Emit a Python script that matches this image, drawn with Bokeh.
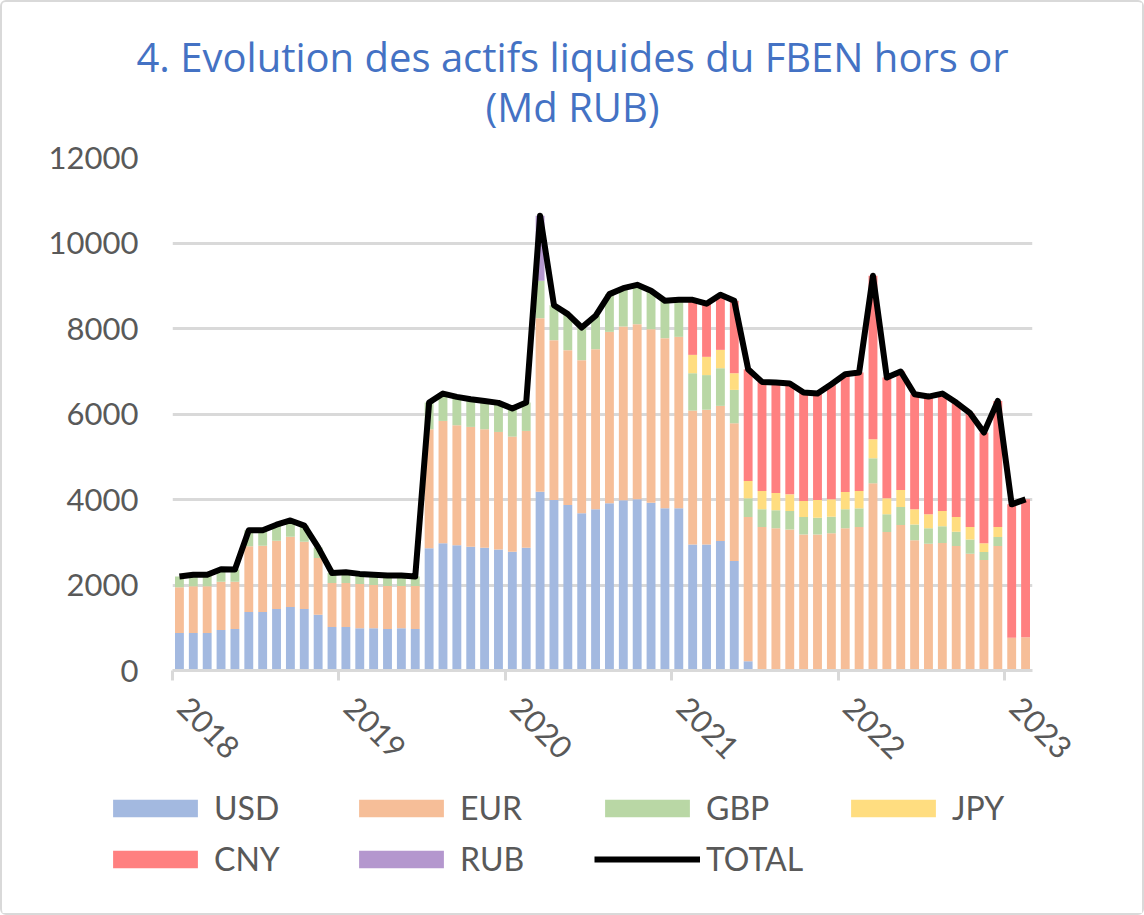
import numpy as np
from bokeh.plotting import figure
from bokeh.layouts import column
from bokeh.models import (ColumnDataSource, FixedTicker, Legend, LegendItem,
                          Title, Range1d)
from bokeh.embed import file_html
from bokeh.resources import INLINE

# ---------------- data (Md RUB, monthly Jan 2018 - Feb 2023) ----------------
YEARS = ["2018", "2019", "2020", "2021", "2022", "2023"]
SERIES = ["USD", "EUR", "GBP", "JPY", "CNY", "RUB"]

USD = [877, 877, 877, 947, 970, 1368, 1368, 1439, 1485, 1439, 1306, 1018,
       1018, 987, 987, 970, 987, 970, 2857, 2974, 2927, 2896, 2872, 2833,
       2779, 2872, 4183, 3988, 3871, 3676, 3770, 3910, 3980, 4004, 3926, 3793,
       3793, 2950, 2950, 3028, 2560, 218, 0, 0, 0, 0, 0, 0,
       0, 0, 0, 0, 0, 0, 0, 0, 0, 0, 0, 0,
       0, 0]
EUR = [1068, 1092, 1092, 1131, 1108, 1536, 1552, 1598, 1645, 1574, 1325, 1029,
       1029, 1036, 1013, 1007, 990, 1007, 2786, 2864, 2810, 2802, 2771, 2747,
       2692, 2732, 4059, 3739, 3622, 3583, 3746, 4012, 4067, 4097, 4058, 3981,
       4012, 3130, 3150, 3162, 3223, 3372, 3356, 3325, 3301, 3184, 3184, 3208,
       3325, 3356, 4379, 3239, 3403, 3044, 2966, 2981, 2911, 2732, 2583, 2911,
       765, 780]
GBP = [255, 271, 271, 292, 282, 376, 360, 373, 380, 377, 249, 233,
       249, 237, 240, 243, 233, 223, 624, 640, 663, 647, 663, 680,
       656, 663, 874, 819, 843, 764, 781, 882, 897, 921, 898, 874,
       866, 874, 810, 881, 781, 437, 414, 421, 430, 406, 391, 390,
       445, 437, 585, 414, 421, 374, 359, 391, 336, 335, 188, 211,
       0, 0]
JPY = [0, 0, 0, 0, 0, 0, 0, 0, 0, 0, 0, 0,
       0, 0, 0, 0, 0, 0, 0, 0, 0, 0, 0, 0,
       0, 0, 0, 0, 0, 0, 0, 0, 0, 0, 0, 0,
       0, 429, 427, 429, 390, 406, 429, 406, 390, 375, 413, 406,
       406, 406, 445, 374, 398, 352, 328, 359, 343, 289, 203, 234,
       0, 0]
CNY = [0, 0, 0, 0, 0, 0, 0, 0, 0, 0, 0, 0,
       0, 0, 0, 0, 0, 0, 0, 0, 0, 0, 0, 0,
       0, 0, 0, 0, 0, 0, 0, 0, 0, 0, 0, 0,
       0, 1288, 1243, 1290, 1694, 2615, 2552, 2584, 2591, 2536, 2490, 2693,
       2755, 2771, 3824, 2826, 2771, 2692, 2755, 2747, 2677, 2662, 2591, 2950,
       3122, 3224]
RUB = [0, 0, 0, 0, 0, 0, 0, 0, 0, 0, 0, 0,
       0, 0, 0, 0, 0, 0, 0, 0, 0, 0, 0, 0,
       0, 0, 1522, 0, 0, 0, 0, 0, 0, 0, 0, 0,
       0, 0, 0, 0, 0, 0, 0, 0, 0, 0, 0, 0,
       0, 0, 0, 0, 0, 0, 0, 0, 0, 0, 0, 0,
       0, 0]
TOTAL = [2200, 2240, 2240, 2370, 2360, 3280, 3280, 3410, 3510, 3390, 2880, 2280,
         2296, 2260, 2240, 2220, 2220, 2200, 6267, 6478, 6400, 6345, 6306, 6260,
         6127, 6267, 10638, 8546, 8336, 8023, 8297, 8804, 8944, 9022, 8882, 8648,
         8671, 8671, 8580, 8790, 8648, 7048, 6751, 6736, 6712, 6501, 6478, 6697,
         6931, 6970, 9233, 6853, 6993, 6462, 6408, 6478, 6267, 6018, 5565, 6306,
         3887, 4004]

COLORS = ["#A3B9E0", "#F6BE98", "#B9D7A5", "#FFDD80", "#FF8080", "#B497CE"]
FONT = "Lato"
TITLE_FONT = "Open Sans"
GREY_TXT = "#595959"
GRID = "#D9D9D9"
BLUE = "#4472C4"

n = len(TOTAL)
src = ColumnDataSource(dict(x=list(range(n)), USD=USD, EUR=EUR, GBP=GBP,
                            JPY=JPY, CNY=CNY, RUB=RUB, TOTAL=TOTAL))

W = 1140
H_MAIN = 783
H_LEG = 128

p = figure(width=W, height=H_MAIN, output_backend="svg", toolbar_location=None,
           title=None, x_range=Range1d(-0.5, n - 0.5), y_range=Range1d(0, 12000),
           min_border_left=170, min_border_right=110, min_border_top=155,
           min_border_bottom=115)
p.frame_align = False
p.outline_line_color = None
p.background_fill_color = "white"
p.border_fill_color = "white"

bars = p.vbar_stack(SERIES, x="x", width=0.64, color=COLORS, source=src,
                    line_color=None)
tot = p.line("x", "TOTAL", source=src, line_width=6, line_color="black",
             line_join="round")

# ---------------- axes ----------------
year_ticks = [-0.5 + 12 * i for i in range(len(YEARS))]
p.xaxis.ticker = FixedTicker(ticks=year_ticks)
p.xaxis.major_label_overrides = {t: "\u00a0\u00a0" + y
                                 for t, y in zip(year_ticks, YEARS)}
p.xaxis.major_label_orientation = -np.pi / 4
p.xaxis.axis_line_color = GRID
p.xaxis.axis_line_width = 3
p.xaxis.major_tick_line_color = GRID
p.xaxis.major_tick_line_width = 3
p.xaxis.major_tick_out = 10
p.xaxis.major_tick_in = 0
p.xaxis.minor_tick_line_color = None
p.xaxis.major_label_text_font = FONT
p.xaxis.major_label_text_font_size = "31px"
p.xaxis.major_label_text_color = GREY_TXT
p.xaxis.major_label_standoff = 10

p.yaxis.ticker = FixedTicker(ticks=list(range(0, 12001, 2000)))
p.yaxis.axis_line_color = None
p.yaxis.major_tick_line_color = None
p.yaxis.minor_tick_line_color = None
p.yaxis.major_label_text_font = FONT
p.yaxis.major_label_text_font_size = "31px"
p.yaxis.major_label_text_color = GREY_TXT
p.yaxis.major_label_standoff = 28

p.xgrid.visible = False
p.ygrid.grid_line_color = GRID
p.ygrid.grid_line_width = 3

# ---------------- titles ----------------
t2 = Title(text="(Md RUB)", align="left", text_font=TITLE_FONT,
           text_font_size="40px", text_font_style="normal",
           text_color=BLUE, standoff=48, offset=313)
t1 = Title(text="4. Evolution des actifs liquides du FBEN hors or",
           align="left", text_font=TITLE_FONT, text_font_size="40px",
           text_font_style="normal", text_color=BLUE, standoff=-62,
           offset=-36)
p.add_layout(t2, "above")
p.add_layout(t1, "above")

# ---------------- legend (separate strip below the chart) ----------------
# Hidden copies of the same renderers, so only their legend entries show.
lg = figure(width=W, height=H_LEG, output_backend="svg", toolbar_location=None,
            title=None, x_range=Range1d(-0.5, n - 0.5), y_range=Range1d(0, 12000),
            min_border=0)
lg.frame_align = False
lg.axis.visible = False
lg.grid.visible = False
lg.outline_line_color = None
lg.background_fill_color = "white"
lg.border_fill_color = "white"
leg_bars = lg.vbar_stack(SERIES, x="x", width=0.64, color=COLORS, source=src,
                         line_color=None)
leg_line = lg.line("x", "TOTAL", source=src, line_width=6, line_color="black")
for r in leg_bars + [leg_line]:
    r.visible = False

items = [LegendItem(label=s, renderers=[r]) for s, r in zip(SERIES, leg_bars)]
items.append(LegendItem(label="TOTAL", renderers=[leg_line]))
leg = Legend(items=items, orientation="horizontal", ncols=4, location=(100, 35),
             glyph_width=106, glyph_height=22, label_standoff=6,
             label_width=122, label_height=36, spacing=12, padding=0,
             margin=0, border_line_color=None, background_fill_alpha=0,
             inactive_fill_alpha=0,
             label_text_font=FONT, label_text_font_size="32px",
             label_text_color=GREY_TXT)
lg.add_layout(leg, "center")

layout = column(p, lg, spacing=0,
                styles={"border": "2px solid #D9D9D9", "border-radius": "6px"})
open("out.html", "w").write(file_html(layout, INLINE))
